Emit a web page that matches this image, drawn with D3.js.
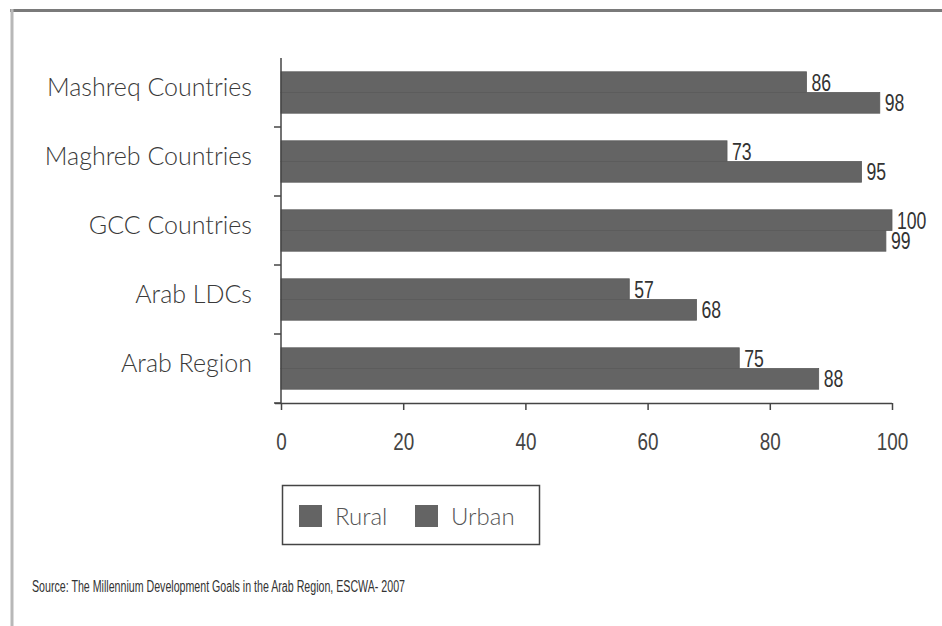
<!DOCTYPE html>
<html>
<head>
<meta charset="utf-8">
<script src="https://cdn.jsdelivr.net/npm/d3@7"></script>
<style>
  html, body { margin: 0; padding: 0; background: #fff; }
  svg { display: block; }
</style>
</head>
<body>
<svg id="chart" width="942" height="626"></svg>
<script>
const categories = ["Mashreq Countries", "Maghreb Countries", "GCC Countries", "Arab LDCs", "Arab Region"];
const seriesNames = ["Rural", "Urban"];
const ruralValues = [86, 73, 100, 57, 75];
const urbanValues = [98, 95, 99, 68, 88];
const xTicks = [0, 20, 40, 60, 80, 100];
const sourceText = "Source: The Millennium Development Goals in the Arab Region, ESCWA- 2007";

const data = categories.map((c, i) => ({ cat: c, Rural: ruralValues[i], Urban: urbanValues[i] }));

const svg = d3.select("#chart");
const W = 942, H = 626;
const barColor = "#646464";
const numFont = "'Liberation Sans', Arial, sans-serif";
const catFont = "Lato, 'Open Sans', sans-serif";
const digitW = 9.8;

// frame
svg.append("line").attr("x1", 10).attr("x2", W).attr("y1", 10.5).attr("y2", 10.5)
  .attr("stroke", "#7a7a7a").attr("stroke-width", 3);
svg.append("line").attr("x1", 12).attr("x2", 12).attr("y1", 9).attr("y2", H)
  .attr("stroke", "#b8b8b8").attr("stroke-width", 3);

const x = d3.scaleLinear().domain([0, 100]).range([281, 892]);
const y = d3.scaleBand().domain(categories).range([58, 403]).paddingInner(0.4).paddingOuter(0.2);
const ySub = d3.scaleBand().domain(seriesNames).range([0, y.bandwidth()]);

// bars
const groups = svg.append("g").selectAll("g").data(data).join("g")
  .attr("transform", d => `translate(0,${y(d.cat)})`);

groups.selectAll("rect").data(d => seriesNames.map(s => ({ s, v: d[s] }))).join("rect")
  .attr("x", x(0))
  .attr("y", d => ySub(d.s))
  .attr("width", d => x(d.v) - x(0))
  .attr("height", ySub.bandwidth())
  .attr("fill", barColor)
  .attr("stroke", "#5a5a5a")
  .attr("stroke-width", 0.8);

groups.selectAll("text").data(d => seriesNames.map(s => ({ s, v: d[s] }))).join("text")
  .attr("x", d => x(d.v) + 5)
  .attr("y", d => ySub(d.s) + ySub.bandwidth() - 2)
  .attr("font-family", numFont)
  .attr("font-size", 23)
  .attr("fill", "#333")
  .attr("textLength", d => String(d.v).length * digitW)
  .attr("lengthAdjust", "spacingAndGlyphs")
  .text(d => d.v);

// x axis
const xAxis = svg.append("g").attr("transform", "translate(0,403)")
  .call(d3.axisBottom(x).tickValues(xTicks).tickSize(7).tickPadding(28).tickSizeOuter(0));
xAxis.select(".domain").attr("stroke", "#444").attr("stroke-width", 1.5)
  .attr("d", `M${x(0) - 6},0.5H${x(100)}`);
xAxis.selectAll(".tick line").attr("stroke", "#444").attr("stroke-width", 1.5);
xAxis.selectAll(".tick text")
  .attr("font-family", numFont).attr("font-size", 24).attr("fill", "#444")
  .attr("dy", "0")
  .attr("textLength", d => String(d).length * 10.5)
  .attr("lengthAdjust", "spacingAndGlyphs");
xAxis.selectAll(".tick text").attr("y", 47);

// y axis line with boundary ticks
const yAxisG = svg.append("g");
yAxisG.append("line").attr("x1", x(0)).attr("x2", x(0)).attr("y1", 58).attr("y2", 404)
  .attr("stroke", "#444").attr("stroke-width", 1.5);
const boundaries = categories.map(c => y(c) - y.step() * y.paddingInner() / 2).concat([403]);
yAxisG.selectAll("line.bt").data(boundaries.slice(1)).join("line").attr("class", "bt")
  .attr("x1", x(0) - 7).attr("x2", x(0)).attr("y1", d => d).attr("y2", d => d)
  .attr("stroke", "#444").attr("stroke-width", 1.5);

// category labels
svg.append("g").selectAll("text").data(categories).join("text")
  .attr("x", 252)
  .attr("y", d => y(d) + y.bandwidth() / 2 + 3)
  .attr("text-anchor", "end")
  .attr("font-family", catFont)
  .attr("font-weight", 300)
  .attr("font-size", 25)
  .attr("fill", "#3a3a3a")
  .text(d => d);

// legend
const lg = svg.append("g");
lg.append("rect").attr("x", 282.5).attr("y", 485.5).attr("width", 257).attr("height", 59)
  .attr("fill", "none").attr("stroke", "#444").attr("stroke-width", 1.5);
const legendX = [299, 415];
seriesNames.forEach((s, i) => {
  lg.append("rect").attr("x", legendX[i]).attr("y", 505).attr("width", 23).attr("height", 22).attr("fill", barColor);
  lg.append("text").attr("x", legendX[i] + 36).attr("y", 525)
    .attr("font-family", catFont).attr("font-weight", 300).attr("font-size", 24).attr("fill", "#555").text(s);
});

// source
svg.append("text").attr("x", 32).attr("y", 592)
  .attr("font-family", numFont).attr("font-size", 16).attr("fill", "#333")
  .attr("textLength", 373).attr("lengthAdjust", "spacingAndGlyphs")
  .text(sourceText);
</script>
</body>
</html>
